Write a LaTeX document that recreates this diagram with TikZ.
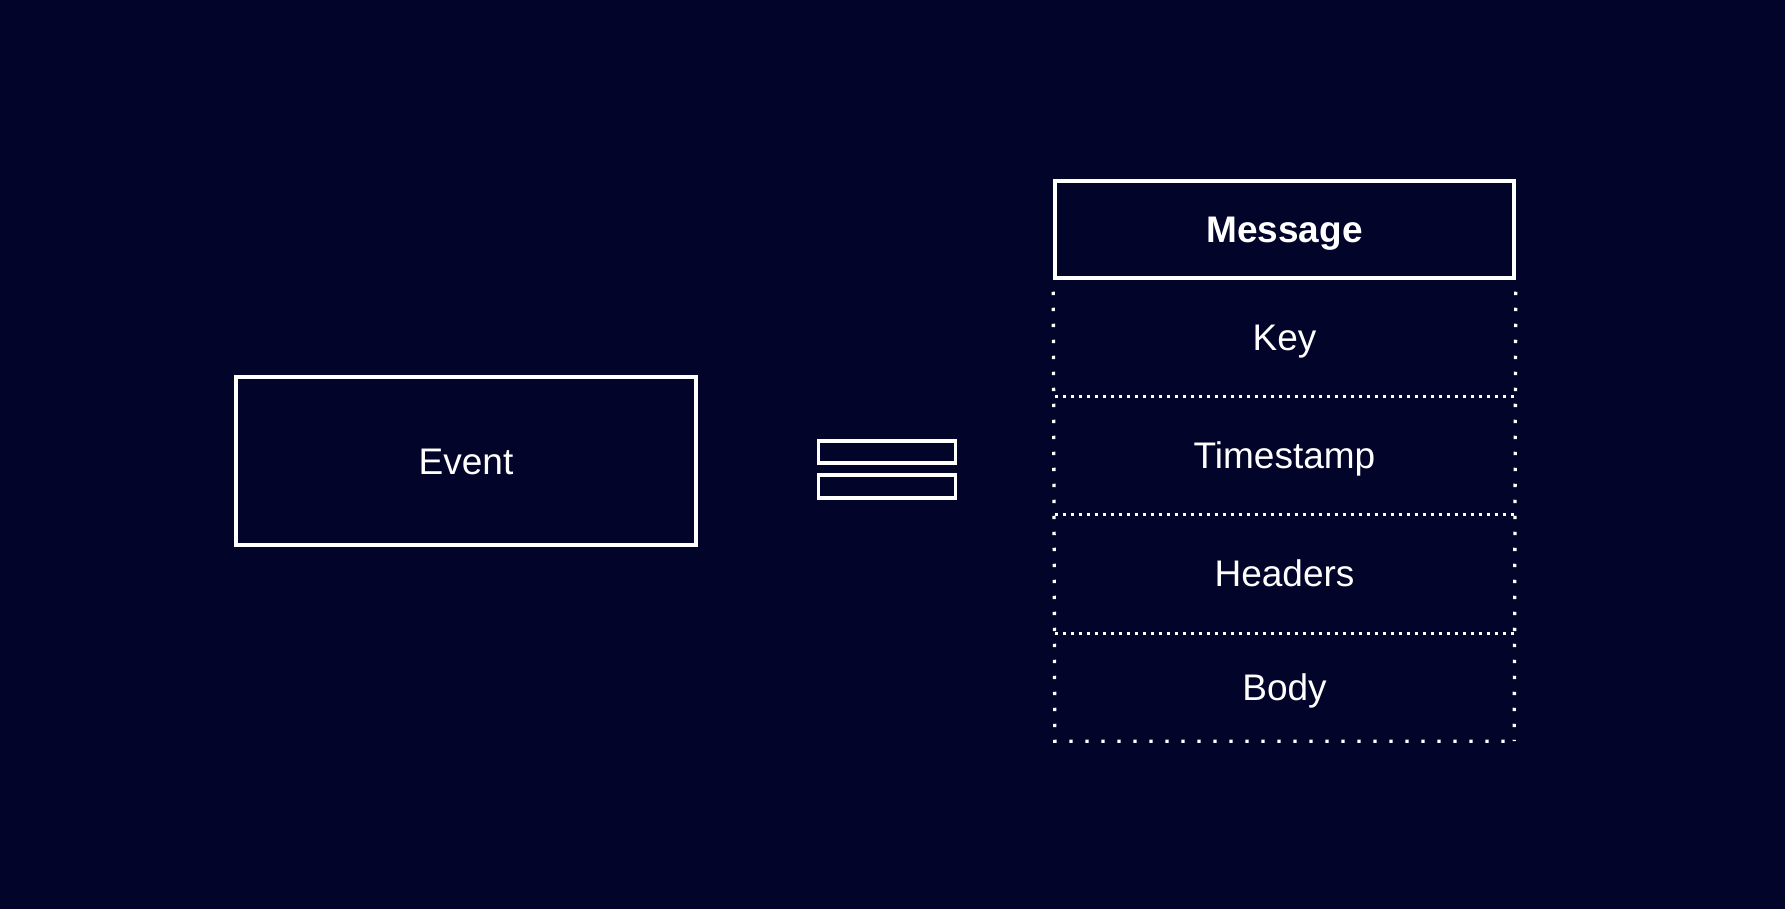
\documentclass[tikz,border=0pt]{standalone}
\usepackage{fontspec}
\setmainfont{Liberation Sans}
\definecolor{bg}{HTML}{03042A}
\tikzset{
  box/.style={draw=white, line width=3.5pt, rectangle, inner sep=0pt},
  capfix/.style={text height=26.5pt, text depth=0pt},
  lbl/.style={text=white, font=\fontsize{37}{44}\selectfont, capfix},
  field/.style={rectangle, minimum width=459pt, inner sep=0pt, text=white, font=\fontsize{37}{44}\selectfont, capfix},
  outerdot/.style={draw=white, line width=3.3pt, dash pattern=on 3.3pt off 12.7pt},
  divdot/.style={draw=white, line width=3pt, dash pattern=on 3pt off 5pt},
}
\begin{document}
\begin{tikzpicture}[x=1pt,y=-1pt]
\fill[bg] (0,0) rectangle (1785,909);
\useasboundingbox (0,0) rectangle (1785,909);
% Event
\node[box, minimum width=460pt, minimum height=168pt, lbl] (event) at (466,461) {Event};
% equals sign
\node[box, minimum width=137pt, minimum height=22pt] (eqtop) at (887,452) {};
\node[box, minimum width=137pt, minimum height=23pt] (eqbot) at (887,486.5) {};
% Message stack
\node[box, minimum width=459pt, minimum height=97pt, text=white, font=\bfseries\fontsize{37}{44}\selectfont, capfix] (msg) at (1284.5,229.5) {Message};
\node[field, minimum height=118pt] (key) at (1284.5,337) {Key};
\node[field, minimum height=118pt] (ts) at (1284.5,455) {Timestamp};
\node[field, minimum height=119pt] (hdr) at (1284.5,573.5) {Headers};
\node[field, minimum height=108pt] (body) at (1284.5,687) {Body};
% outer dotted border
\draw[outerdot] (msg.south west) ++(0,12) -- (body.south west) -- (body.south east);
\draw[outerdot] (msg.south east) ++(0,12) -- (body.south east);
% dividers
\draw[divdot] (key.south west) -- (key.south east);
\draw[divdot] (ts.south west) -- (ts.south east);
\draw[divdot] (hdr.south west) -- (hdr.south east);
\end{tikzpicture}
\end{document}
